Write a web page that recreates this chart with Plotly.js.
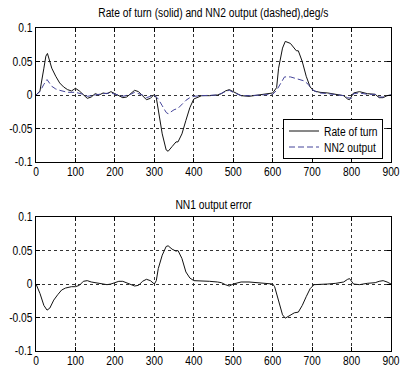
<!DOCTYPE html>
<html><head><meta charset="utf-8">
<script src="https://cdn.plot.ly/plotly-3.0.1.min.js"></script>
<style>html,body{margin:0;padding:0;background:#fff}#c{width:408px;height:366px}</style>
</head><body><div id="c"></div>
<script>
// Top panel: rate of turn (solid) and NN2 output (dashed)
const turnX = [0,10,20,25,29,40,50,60,70,80,90,100,110,120,130,140,150,160,170,180,190,200,210,220,230,240,250,260,270,280,290,300,305,310,320,330,335,345,355,360,370,380,390,400,410,420,440,460,470,480,490,500,510,520,540,560,580,590,600,610,615,625,632,645,655,660,665,675,685,695,705,720,740,760,780,790,795,805,820,840,860,870,880,890,900];
const turnY = [0,0.006,0.04,0.058,0.062,0.040,0.028,0.018,0.012,0.008,0.006,0.010,0.006,0.001,-0.005,-0.003,0.002,0,0.003,0.002,0.005,0.002,-0.001,-0.004,-0.003,0.002,0.007,0.005,-0.001,-0.007,-0.005,0.001,-0.004,-0.024,-0.058,-0.082,-0.084,-0.077,-0.070,-0.070,-0.058,-0.038,-0.019,-0.006,-0.003,-0.001,-0.001,0,0.002,0.006,0.008,0.005,0.001,-0.001,-0.002,0,0.001,0.002,0.003,0.011,0.040,0.070,0.080,0.077,0.070,0.066,0.066,0.050,0.028,0.012,0.006,0.004,0.003,0.001,-0.001,-0.006,-0.007,0.003,0.005,0.002,0.001,-0.004,-0.004,-0.001,0];
const nn2X = [0,10,20,28,40,50,60,80,100,120,130,140,150,170,190,210,220,240,250,270,280,300,310,320,330,335,350,360,370,380,390,400,420,440,460,480,490,500,520,540,560,580,600,610,620,630,645,655,665,680,690,700,710,720,740,760,780,790,800,805,820,840,860,870,880,890,900];
const nn2Y = [0,0.005,0.016,0.023,0.013,0.009,0.007,0.004,0.004,0.001,-0.002,-0.001,0.001,0.002,0.003,0,-0.002,0.001,0.004,0,-0.004,0,-0.006,-0.016,-0.026,-0.028,-0.022,-0.020,-0.014,-0.008,-0.004,-0.002,-0.001,0,0,0.005,0.007,0.004,-0.001,-0.001,0,0.001,0.001,0.007,0.018,0.027,0.027,0.025,0.023,0.021,0.016,0.008,0.005,0.003,0.002,0.001,-0.001,-0.004,-0.005,0.002,0.003,0.001,0.001,-0.003,-0.003,-0.001,0];
// Bottom panel: NN1 output error
const errX = [0,10,20,28,35,45,55,65,75,90,100,110,120,130,140,150,160,170,180,190,200,210,220,230,240,250,260,270,280,290,300,305,310,320,330,335,345,355,360,370,380,390,400,420,440,460,470,480,490,500,520,540,560,580,600,605,615,625,632,645,655,665,675,685,695,705,720,740,760,780,790,795,805,820,840,860,870,880,890,900];
const errY = [0,-0.014,-0.032,-0.039,-0.036,-0.024,-0.016,-0.009,-0.006,-0.004,-0.004,-0.002,0.004,0.005,0.003,0.002,0.001,0.001,-0.001,0,0.002,0.004,0.004,0.002,-0.001,-0.003,-0.002,0.004,0.007,0.005,0,0.005,0.023,0.043,0.056,0.057,0.052,0.049,0.050,0.038,0.018,0.009,0.005,0.005,0.004,0.003,0.002,-0.001,-0.003,0,0.003,0.003,0.002,0.002,0,-0.004,-0.027,-0.046,-0.051,-0.047,-0.043,-0.042,-0.032,-0.019,-0.007,-0.001,-0.001,0,0.001,0.003,0.007,0.008,0,-0.001,0.001,0.002,0.004,0.005,0.003,0];
const xTicks = [0,100,200,300,400,500,600,700,800,900];
const yTicks = [-0.1,-0.05,0,0.05,0.1];
const yTickText = ['-0.1','-0.05','0','0.05','0.1'];
const seriesNames = ['Rate of turn','NN2 output'];
const titles = ['Rate of turn (solid) and NN2 output (dashed),deg/s','NN1 output error'];

const FONT = 'Liberation Sans, Arial, sans-serif';
const traces = [
  {x: turnX, y: turnY, type:'scatter', mode:'lines', name:seriesNames[0], line:{color:'#111', width:1}, xaxis:'x', yaxis:'y'},
  {x: nn2X, y: nn2Y, type:'scatter', mode:'lines', name:seriesNames[1], line:{color:'#45459a', width:1, dash:'6px,3px'}, xaxis:'x', yaxis:'y'},
  {x: errX, y: errY, type:'scatter', mode:'lines', showlegend:false, line:{color:'#111', width:1}, xaxis:'x2', yaxis:'y2'}
];
function common(){return {ticks:'inside', ticklen:4, tickcolor:'#000', showline:true, linecolor:'#000', linewidth:1, mirror:'ticks', showgrid:true, gridcolor:'#333', griddash:'dot', gridwidth:1, zeroline:false, tickfont:{family:FONT, size:12.5, color:'#000'}, fixedrange:true};}
function xa(anchor){return Object.assign(common(), {domain:[0,1], range:[0,900], anchor:anchor, tickvals:xTicks, ticklabelstandoff:-2});}
function ya(anchor, dom){return Object.assign(common(), {domain:dom, range:[-0.1,0.1], anchor:anchor, tickvals:yTicks, ticktext:yTickText});}
const layout = {
  width:408, height:366, margin:{l:36, r:17, t:0, b:0},
  paper_bgcolor:'#fff', plot_bgcolor:'#fff', showlegend:true,
  xaxis: xa('y'), yaxis: ya('x', [1-162/366, 1-28/366]),
  xaxis2: xa('y2'), yaxis2: ya('x2', [1-351/366, 1-217/366]),
  legend:{x:(383-36)/355, xanchor:'right', y:1-159/366, yanchor:'bottom', bgcolor:'#fff', bordercolor:'#000', borderwidth:1, font:{family:FONT, size:12.5, color:'#000'}, tracegroupgap:0},
  annotations:[
    {text:titles[0], xref:'paper', yref:'paper', x:0.5, y:1-13/366, xanchor:'center', yanchor:'middle', showarrow:false, font:{family:FONT, size:12.5, color:'#000'}},
    {text:titles[1], xref:'paper', yref:'paper', x:0.5, y:1-205/366, xanchor:'center', yanchor:'middle', showarrow:false, font:{family:FONT, size:12.5, color:'#000'}}
  ]
};
Plotly.newPlot('c', traces, layout, {displayModeBar:false, staticPlot:true}).then(function(gd){
  // narrow the glyphs to imitate the condensed GUI font of the original
  const F = 0.82;
  gd.querySelectorAll('svg text').forEach(function(t){
    try {
      const L = t.getComputedTextLength();
      if (L > 0) { t.setAttribute('textLength', (L*F).toFixed(2)); t.setAttribute('lengthAdjust','spacingAndGlyphs'); }
    } catch(e) {}
  });
  // tighten the legend box like the original
  try {
    const leg = gd.querySelector('g.legend');
    const bg = leg.querySelector('rect.bg');
    const W = 100, H = 40;
    bg.setAttribute('width', W-1); bg.setAttribute('height', H-1);
    bg.setAttribute('x', 0.5); bg.setAttribute('y', 0.5);
    const items = leg.querySelectorAll('g.traces');
    const ys = [12, 28];
    items.forEach(function(it, i){ it.setAttribute('transform', 'translate(1,' + ys[i] + ')'); });
    leg.setAttribute('transform', 'translate(283,119)');
  } catch(e) {}
});
</script></body></html>
